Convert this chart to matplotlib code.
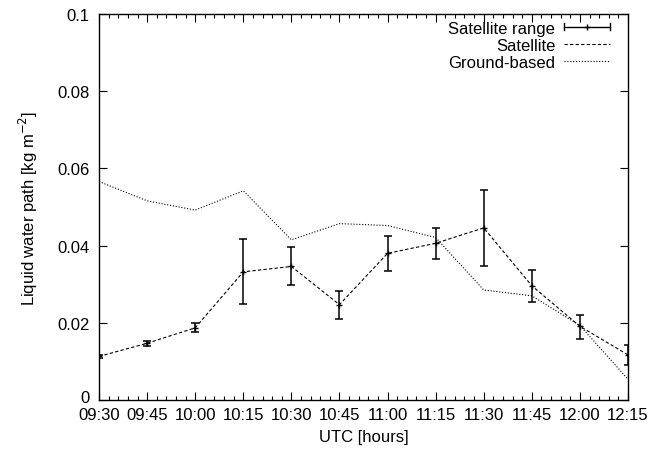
import matplotlib
matplotlib.use("Agg")
from matplotlib import pyplot as plt
from matplotlib.legend_handler import HandlerBase
from matplotlib.lines import Line2D
import matplotlib.transforms as mtransforms
import numpy as np

plt.rcParams['font.family'] = ['Liberation Sans', 'DejaVu Sans']
plt.rcParams['font.size'] = 12

# data (time in minutes after midnight, UTC)
times = [570, 585, 600, 615, 630, 645, 660, 675, 690, 705, 720, 735]
tick_labels = ["09:30", "09:45", "10:00", "10:15", "10:30", "10:45",
               "11:00", "11:15", "11:30", "11:45", "12:00", "12:15"]
satellite = [0.0113, 0.0147, 0.0187, 0.0332, 0.0346, 0.0247,
             0.0380, 0.0406, 0.0446, 0.0296, 0.0191, 0.0117]
sat_low = [0.0110, 0.0141, 0.0175, 0.0248, 0.0297, 0.0210,
           0.0335, 0.0366, 0.0347, 0.0253, 0.0159, 0.0091]
sat_high = [0.0116, 0.0153, 0.0200, 0.0417, 0.0396, 0.0283,
            0.0426, 0.0445, 0.0545, 0.0338, 0.0219, 0.0143]
ground = [0.0566, 0.0516, 0.0492, 0.0542, 0.0415, 0.0457,
          0.0452, 0.0421, 0.0285, 0.0270, 0.0193, 0.0054]


class RangeHandler(HandlerBase):
    # gnuplot-like key sample: horizontal bar with end caps and a '+' in the middle
    def create_artists(self, legend, orig_handle, xdescent, ydescent,
                       width, height, fontsize, trans):
        y = height / 2 - ydescent
        x0, x1 = -xdescent, -xdescent + width
        cap = height * 0.3
        line = Line2D([x0, x1], [y, y], color="black", lw=1.0)
        c0 = Line2D([x0, x0], [y - cap, y + cap], color="black", lw=1.0)
        c1 = Line2D([x1, x1], [y - cap, y + cap], color="black", lw=1.0)
        mid = Line2D([(x0 + x1) / 2], [y], marker="+", color="black", ms=5, mew=1.0)
        arts = [line, c0, c1, mid]
        for a in arts:
            a.set_transform(trans)
        return arts


fig = plt.figure(figsize=(6.62, 4.52), dpi=100)
ax = fig.add_axes([0.1496, 0.1128, 0.7990, 0.8540])

t = np.array(times)
sat = np.array(satellite)
yerr = [sat - np.array(sat_low), np.array(sat_high) - sat]

ax.plot(t, ground, color="black", lw=0.8, linestyle=(0, (1, 1.6)))
ax.plot(t, sat, color="black", lw=0.8, linestyle=(0, (3, 2)))
ax.errorbar(t, sat, yerr=yerr, fmt="none", ecolor="black", elinewidth=1.1,
            capsize=3, capthick=1.1)
ax.plot(t, sat, "+", color="black", ms=5, mew=1.0)

ax.set_xlim(times[0], times[-1])
ax.set_ylim(0, 0.1)
ax.set_xticks(times)
ax.set_xticklabels(tick_labels)
ax.set_xticks(np.arange(times[0], times[-1] + 1, 3), minor=True)
ax.set_yticks([0, 0.02, 0.04, 0.06, 0.08, 0.1])
ax.yaxis.set_major_formatter(plt.FuncFormatter(lambda v, p: "%g" % v))

ax.tick_params(which="both", direction="in", top=True, right=True, width=0.8)
ax.tick_params(which="major", length=6)
ax.tick_params(axis="y", pad=7)
ax.tick_params(axis="x", pad=5)
ax.tick_params(which="minor", length=3)
for s in ax.spines.values():
    s.set_linewidth(1.0)

# lift the "0" label a little, as in the original
zero_lbl = ax.yaxis.get_major_ticks()[0].label1
zero_lbl.set_transform(zero_lbl.get_transform() +
                       mtransforms.ScaledTranslation(0, 4 / 100, fig.dpi_scale_trans))

ax.set_xlabel("UTC [hours]", labelpad=5)
ax.set_ylabel("Liquid water path [kg m$^{-2}$]", labelpad=12)

handles = [
    Line2D([], [], color="black"),
    Line2D([], [], color="black", lw=0.8, linestyle=(0, (3, 2))),
    Line2D([], [], color="black", lw=0.8, linestyle=(0, (1, 1.6))),
]
ax.legend(handles, ["Satellite range", "Satellite", "Ground-based"],
          handler_map={handles[0]: RangeHandler()},
          loc="upper right", frameon=False, markerfirst=False,
          handlelength=2.8, handletextpad=0.5, labelspacing=0.12,
          borderaxespad=0.0, bbox_to_anchor=(0.979, 1.0))

fig.savefig("out.png", dpi=100)
